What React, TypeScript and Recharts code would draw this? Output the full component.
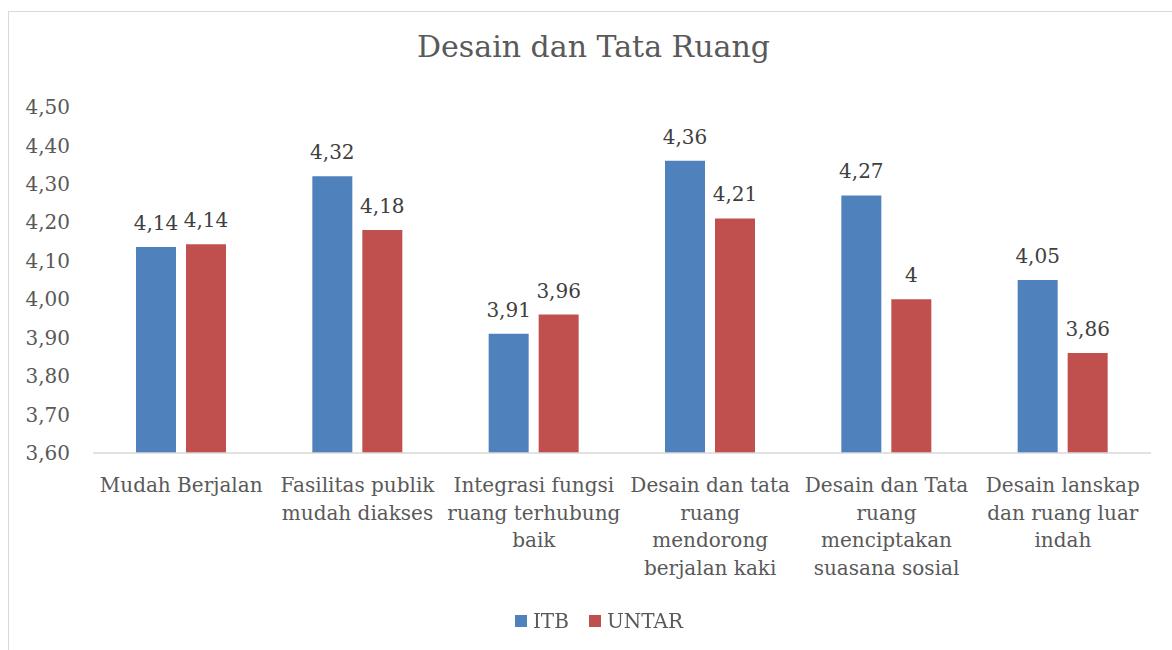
import React from "react";
import { BarChart, Bar, XAxis, YAxis, Legend, LabelList } from "recharts";

const categories = [
  "Mudah Berjalan",
  "Fasilitas publik\nmudah diakses",
  "Integrasi fungsi\nruang terhubung\nbaik",
  "Desain dan tata\nruang\nmendorong\nberjalan kaki",
  "Desain dan Tata\nruang\nmenciptakan\nsuasana sosial",
  "Desain lanskap\ndan ruang luar\nindah",
];
const itb = [4.136, 4.32, 3.91, 4.36, 4.27, 4.05];
const untar = [4.143, 4.18, 3.96, 4.21, 4.0, 3.86];
const yTicks = [3.6, 3.7, 3.8, 3.9, 4.0, 4.1, 4.2, 4.3, 4.4, 4.5];

const FONT = "'DejaVu Serif', serif";
const FS = 20;

const data = categories.map((name, i) => ({ name, itb: itb[i], untar: untar[i] }));

// Excel "General" style: 4 -> "4", 4.136 -> "4,14"
const fmtValue = (v: any) => String(Number(Number(v).toFixed(2))).replace(".", ",");
const fmtTick = (v: number) => v.toFixed(2).replace(".", ",");

function CategoryTick(props: any) {
  const { x, y, payload } = props;
  const lines = String(payload.value).split("\n");
  return (
    <text x={x} y={y} textAnchor="middle" fill="#595959" fontSize={FS} fontFamily={FONT}>
      {lines.map((line, i) => (
        <tspan key={i} x={x} dy={i === 0 ? 39 : 27.5}>
          {line}
        </tspan>
      ))}
    </text>
  );
}

function LegendContent() {
  const items = [
    { label: "ITB", color: "#4F81BD" },
    { label: "UNTAR", color: "#C0504D" },
  ];
  return (
    <div
      style={{
        display: "flex",
        justifyContent: "center",
        alignItems: "center",
        gap: 20,
        fontFamily: FONT,
        fontSize: FS,
        lineHeight: "22px",
        color: "#595959",
      }}
    >
      {items.map((it) => (
        <div key={it.label} style={{ display: "flex", alignItems: "center" }}>
          <span style={{ width: 12, height: 12, background: it.color, marginRight: 6, display: "inline-block" }} />
          <span>{it.label}</span>
        </div>
      ))}
    </div>
  );
}

export default function App() {
  return (
    <div style={{ position: "fixed", left: 0, top: 0, width: 1172, height: 650, background: "#fff" }}>
      <div
        style={{
          position: "absolute",
          left: 8,
          top: 11,
          width: 1180,
          height: 650,
          borderTop: "1px solid #D9D9D9",
          borderLeft: "1px solid #D9D9D9",
        }}
      />
      <div
        style={{
          position: "absolute",
          left: 0,
          top: 29,
          width: 1187,
          textAlign: "center",
          fontFamily: FONT,
          fontSize: 30,
          color: "#595959",
        }}
      >
        Desain dan Tata Ruang
      </div>
      <BarChart
        width={1172}
        height={650}
        data={data}
        margin={{ top: 107, right: 21, bottom: 47, left: 0 }}
        barGap={10}
        barSize={40}
      >
        <XAxis
          dataKey="name"
          interval={0}
          height={150}
          tickLine={false}
          tickSize={0}
          tickMargin={0}
          axisLine={{ stroke: "#D9D9D9", strokeWidth: 1.5 }}
          tick={<CategoryTick />}
        />
        <YAxis
          width={93}
          domain={[3.6, 4.5]}
          ticks={yTicks}
          allowDataOverflow
          axisLine={false}
          tickLine={false}
          tickSize={0}
          tickMargin={23}
          tickFormatter={fmtTick}
          tick={{ fill: "#595959", fontSize: FS, fontFamily: FONT }}
        />
        <Legend
          verticalAlign="middle"
          align="center"
          wrapperStyle={{ top: 610, left: 13, width: 1172 }}
          content={<LegendContent />}
        />
        <Bar dataKey="itb" name="ITB" fill="#4F81BD" isAnimationActive={false}>
          <LabelList
            dataKey="itb"
            position="top"
            offset={17}
            formatter={fmtValue}
            style={{ fill: "#404040", fontSize: FS, fontFamily: FONT }}
          />
        </Bar>
        <Bar dataKey="untar" name="UNTAR" fill="#C0504D" isAnimationActive={false}>
          <LabelList
            dataKey="untar"
            position="top"
            offset={17}
            formatter={fmtValue}
            style={{ fill: "#404040", fontSize: FS, fontFamily: FONT }}
          />
        </Bar>
      </BarChart>
    </div>
  );
}
